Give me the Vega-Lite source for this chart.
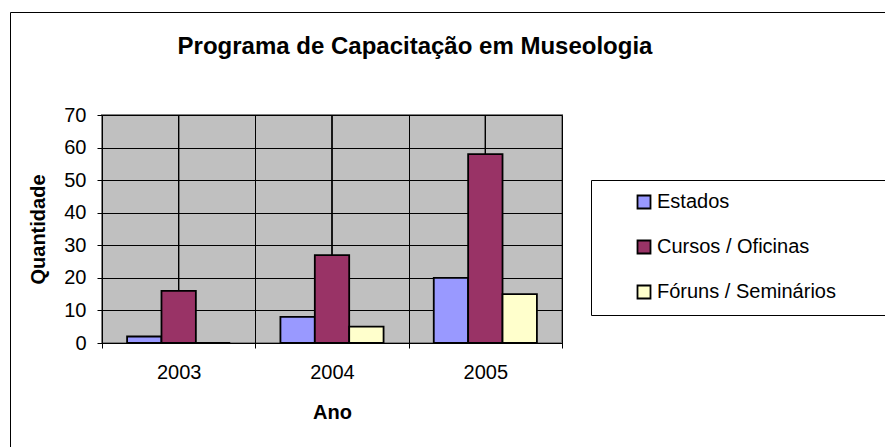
{
  "$schema": "https://vega.github.io/schema/vega-lite/v6.json",
  "width": 460,
  "height": 228,
  "autosize": {"type": "none"},
  "padding": {"left": 102, "top": 115, "right": 323, "bottom": 104},
  "background": "white",
  "title": {
    "text": "Programa de Capacitação em Museologia",
    "font": "Liberation Sans",
    "fontSize": 24,
    "fontWeight": "bold",
    "color": "#000000",
    "anchor": "middle",
    "frame": "group",
    "dx": 83,
    "offset": -47
  },
  "config": {
    "font": "Liberation Sans",
    "view": {"fill": "#C0C0C0", "stroke": "#808080", "strokeWidth": 2}
  },
  "data": {
    "values": [
      {"Ano": "2003", "Serie": "Estados", "Quantidade": 2},
      {"Ano": "2003", "Serie": "Cursos / Oficinas", "Quantidade": 16},
      {"Ano": "2003", "Serie": "Fóruns / Seminários", "Quantidade": 0},
      {"Ano": "2004", "Serie": "Estados", "Quantidade": 8},
      {"Ano": "2004", "Serie": "Cursos / Oficinas", "Quantidade": 27},
      {"Ano": "2004", "Serie": "Fóruns / Seminários", "Quantidade": 5},
      {"Ano": "2005", "Serie": "Estados", "Quantidade": 20},
      {"Ano": "2005", "Serie": "Cursos / Oficinas", "Quantidade": 58},
      {"Ano": "2005", "Serie": "Fóruns / Seminários", "Quantidade": 15}
    ]
  },
  "encoding": {
    "x": {
      "field": "Ano",
      "type": "nominal",
      "scale": {"paddingInner": 0, "paddingOuter": 0},
      "axis": {
        "title": "Ano",
        "titleFont": "Liberation Sans",
        "titleFontSize": 20,
        "titleFontWeight": "bold",
        "titleColor": "#000000",
        "titlePadding": 20,
        "labelAngle": 0,
        "labelFont": "Liberation Sans",
        "labelFontSize": 20,
        "labelColor": "#000000",
        "labelPadding": 14,
        "tickBand": "extent",
        "tickSize": 5,
        "tickColor": "#000000",
        "domainColor": "#000000",
        "grid": true,
        "gridColor": "#000000",
        "gridOpacity": 1,
        "gridWidth": 1
      }
    }
  },
  "layer": [
    {
      "mark": {"type": "rule", "color": "#000000", "strokeWidth": 1},
      "encoding": {}
    },
    {
      "mark": {"type": "bar", "strokeWidth": 1.8, "strokeOpacity": 1},
      "encoding": {
        "xOffset": {
          "field": "Serie",
          "type": "nominal",
          "sort": ["Estados", "Cursos / Oficinas", "Fóruns / Seminários"],
          "scale": {"paddingInner": 0, "paddingOuter": 0.73}
        },
        "y": {
          "field": "Quantidade",
          "type": "quantitative",
          "scale": {"domain": [0, 70], "nice": false},
          "axis": {
            "title": "Quantidade",
            "titleFont": "Liberation Sans",
            "titleFontSize": 20,
            "titleFontWeight": "bold",
            "titleColor": "#000000",
            "titlePadding": 15,
            "values": [0, 10, 20, 30, 40, 50, 60, 70],
            "labelFont": "Liberation Sans",
            "labelFontSize": 20,
            "labelColor": "#000000",
            "labelPadding": 11,
            "tickSize": 5,
            "tickColor": "#000000",
            "domainColor": "#000000",
            "grid": true,
            "gridColor": "#000000",
            "gridOpacity": 1,
            "gridWidth": 1
          }
        },
        "fill": {
          "field": "Serie",
          "type": "nominal",
          "scale": {
            "domain": ["Estados", "Cursos / Oficinas", "Fóruns / Seminários"],
            "range": ["#9999FF", "#993366", "#FFFFCC"]
          },
          "legend": {
            "orient": "none",
            "legendX": 489,
            "legendY": 65,
            "title": "M",
            "titleOrient": "right",
            "titleOpacity": 0,
            "titleFontSize": 8,
            "titlePadding": 36,
            "padding": 12,
            "strokeColor": "#000000",
            "fillColor": "#FFFFFF",
            "symbolType": "square",
            "symbolSize": 169,
            "symbolStrokeColor": "#000000",
            "symbolStrokeWidth": 1.8,
            "symbolOpacity": 1,
            "symbolOffset": 31,
            "labelOffset": 3,
            "labelFont": "Liberation Sans",
            "labelFontSize": 20,
            "labelColor": "#000000",
            "labelLimit": 800,
            "rowPadding": 23
          }
        },
        "stroke": {
          "datum": "frame",
          "type": "nominal",
          "scale": {"range": ["#000000"]},
          "legend": {
            "orient": "none",
            "legendX": -92,
            "legendY": -103,
            "title": null,
            "padding": 0,
            "strokeColor": "#000000",
            "fillColor": null,
            "symbolType": "square",
            "symbolSize": 1000000,
            "symbolOpacity": 0,
            "symbolStrokeWidth": 0,
            "labelOpacity": 0,
            "labelExpr": "''"
          }
        }
      }
    }
  ]
}
